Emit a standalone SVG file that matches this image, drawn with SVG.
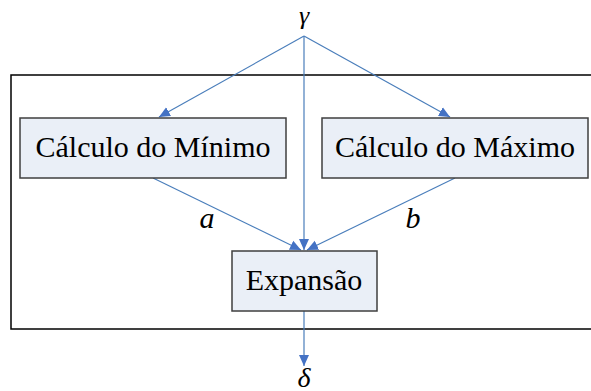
<svg xmlns="http://www.w3.org/2000/svg" width="591" height="391" viewBox="0 0 591 391">
<style>
.box{fill:#EAEFF7;stroke:#3F3F3F;stroke-width:1.5}
.con{stroke:#4A7EBB;stroke-width:1.2;fill:none;marker-end:url(#ah)}
</style>
<defs>
<marker id="ah" markerUnits="userSpaceOnUse" markerWidth="12" markerHeight="12" viewBox="0 0 12 12" refX="11" refY="6" orient="auto">
<path d="M0,1 L11,6 L0,11 Z" fill="#4472C4"/>
</marker>
</defs>
<rect x="11" y="75" width="590" height="254" fill="none" stroke="#000" stroke-width="1.5"/>
<g id="connectors">
<line class="con" x1="304" y1="36" x2="159" y2="117"/>
<line class="con" x1="304" y1="36" x2="450" y2="117"/>
<line class="con" x1="304" y1="36" x2="304" y2="250"/>
<line class="con" x1="153" y1="178" x2="301" y2="250"/>
<line class="con" x1="455" y1="178" x2="307" y2="250"/>
<line class="con" x1="304" y1="311" x2="304" y2="366"/>
</g>
<g font-family="Liberation Serif, DejaVu Serif, serif" text-anchor="middle" fill="#000">
<g id="gamma"><text x="304" y="24" font-size="26" font-style="italic">γ</text></g>
<g id="min">
<rect class="box" x="20" y="118" width="266" height="60"/>
<text x="153" y="157" font-size="30">Cálculo do Mínimo</text>
</g>
<g id="max">
<rect class="box" x="322" y="118" width="266" height="60"/>
<text x="455" y="157" font-size="30">Cálculo do Máximo</text>
</g>
<g id="exp">
<rect class="box" x="232" y="251" width="145" height="60"/>
<text x="304" y="290" font-size="30">Expansão</text>
</g>
<text x="207" y="228" font-size="30" font-style="italic">a</text>
<text x="413" y="228" font-size="30" font-style="italic">b</text>
<g id="delta"><text x="304" y="387" font-size="28" font-style="italic">δ</text></g>
</g>
</svg>
